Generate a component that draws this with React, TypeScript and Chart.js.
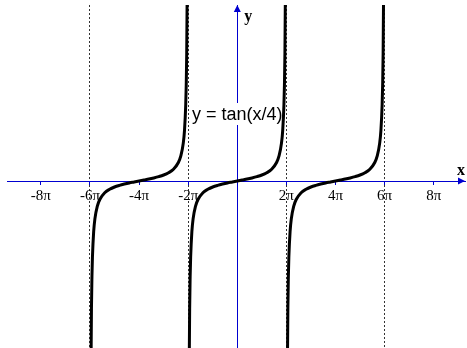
import React, { useEffect, useRef } from "react";
import { Chart, registerables } from "chart.js";

Chart.register(...registerables);

// x values are in multiples of π
const xTickValues = [-8, -6, -4, -2, 0, 2, 4, 6, 8];
const asymptotes = [-6, -2, 2, 6];
const branchCenters = [-4, 0, 4];
// one branch of y = tan(x/4), offset from its centre (in π)
const branchDx = [-1.97, -1.96, -1.94, -1.92, -1.9, -1.85, -1.8, -1.7, -1.6, -1.4, -1.2, -1.0, -0.8, -0.6, -0.4, -0.2, 0, 0.2, 0.4, 0.6, 0.8, 1.0, 1.2, 1.4, 1.6, 1.7, 1.8, 1.85, 1.9, 1.92, 1.94, 1.96, 1.97];
const branchY = [-42.4, -31.8, -21.2, -15.9, -12.7, -8.45, -6.31, -4.17, -3.08, -1.96, -1.38, -1.0, -0.73, -0.51, -0.32, -0.16, 0, 0.16, 0.32, 0.51, 0.73, 1.0, 1.38, 1.96, 3.08, 4.17, 6.31, 8.45, 12.7, 15.9, 21.2, 31.8, 42.4];
const curveLabel = "y = tan(x/4)";
const xRange = [-9.38, 9.275];
const yRange = [-27.83, 29.33];

const AXIS_BLUE = "#0000d0";

const decorPlugin = {
  id: "decor",
  beforeDatasetsDraw(chart: any) {
    const { ctx, chartArea, scales } = chart;
    const xs = scales.x;
    const ys = scales.y;
    const x0 = xs.getPixelForValue(0);
    const y0 = ys.getPixelForValue(0);
    ctx.save();
    // arrows
    ctx.fillStyle = AXIS_BLUE;
    ctx.beginPath();
    ctx.moveTo(chartArea.right, y0);
    ctx.lineTo(chartArea.right - 7, y0 - 3.5);
    ctx.lineTo(chartArea.right - 7, y0 + 3.5);
    ctx.closePath();
    ctx.fill();
    ctx.beginPath();
    ctx.moveTo(x0, chartArea.top);
    ctx.lineTo(x0 - 3.5, chartArea.top + 7);
    ctx.lineTo(x0 + 3.5, chartArea.top + 7);
    ctx.closePath();
    ctx.fill();
    // axis names
    ctx.fillStyle = "#000";
    ctx.font = "bold 16px 'Liberation Serif'";
    ctx.textAlign = "center";
    ctx.textBaseline = "middle";
    ctx.fillText("x", chartArea.right - 4, y0 - 10);
    ctx.fillText("y", x0 + 11, chartArea.top + 12);
    // curve label on white box
    ctx.font = "18px 'Liberation Sans'";
    const w = ctx.measureText(curveLabel).width;
    const cx = x0 + 0;
    const cy = 114;
    ctx.fillStyle = "#fff";
    ctx.fillRect(cx - w / 2 - 2, cy - 11, w + 4, 22);
    ctx.fillStyle = "#000";
    ctx.fillText(curveLabel, cx, cy + 1);
    ctx.restore();
  },
};

export default function App() {
  const ref = useRef<HTMLCanvasElement | null>(null);
  useEffect(() => {
    if (!ref.current) return;
    const datasets = branchCenters.map((c) => ({
      data: branchDx.map((dx, i) => ({ x: c + dx, y: branchY[i] })),
      showLine: true,
      borderColor: "#000",
      borderWidth: 3,
      pointRadius: 0,
      cubicInterpolationMode: "monotone" as const,
    }));
    const chart = new Chart(ref.current, {
      type: "scatter",
      data: { datasets },
      options: {
        animation: false,
        responsive: false,
        layout: { padding: { left: 7, right: 2, top: 5, bottom: 0 } },
        plugins: { legend: { display: false }, tooltip: { enabled: false }, title: { display: false } },
        scales: {
          x: {
            type: "linear",
            min: xRange[0],
            max: xRange[1],
            position: { y: 0 } as any,
            afterFit: (s: any) => { s.height = 0; },
            afterBuildTicks: (s: any) => { s.ticks = xTickValues.map((v) => ({ value: v })); },
            grid: {
              display: true,
              drawOnChartArea: true,
              drawTicks: true,
              tickLength: 3,
              lineWidth: 1,
              color: (ctx: any) => (ctx.tick && asymptotes.includes(ctx.tick.value) ? "#333" : "rgba(0,0,0,0)"),
              tickColor: (ctx: any) => (ctx.tick && ctx.tick.value !== 0 ? AXIS_BLUE : "rgba(0,0,0,0)"),
            },
            border: { display: true, color: AXIS_BLUE, width: 1, dash: [2, 2] },
            ticks: {
              autoSkip: false,
              maxRotation: 0,
              padding: 3,
              color: "#000",
              font: { family: "'Liberation Serif'", size: 15 },
              callback: (v: any) => (v === 0 ? "" : `${v}π`),
            },
          },
          y: {
            type: "linear",
            min: yRange[0],
            max: yRange[1],
            position: { x: 0 } as any,
            afterFit: (s: any) => { s.width = 0; },
            grid: { display: false },
            border: { display: true, color: AXIS_BLUE, width: 1 },
            ticks: { display: false },
          },
        },
      },
      plugins: [decorPlugin],
    });
    return () => chart.destroy();
  }, []);
  return (
    <div style={{ position: "absolute", left: 0, top: 0, width: 467, height: 348, background: "#fff" }}>
      <canvas ref={ref} width={467} height={348} />
    </div>
  );
}
